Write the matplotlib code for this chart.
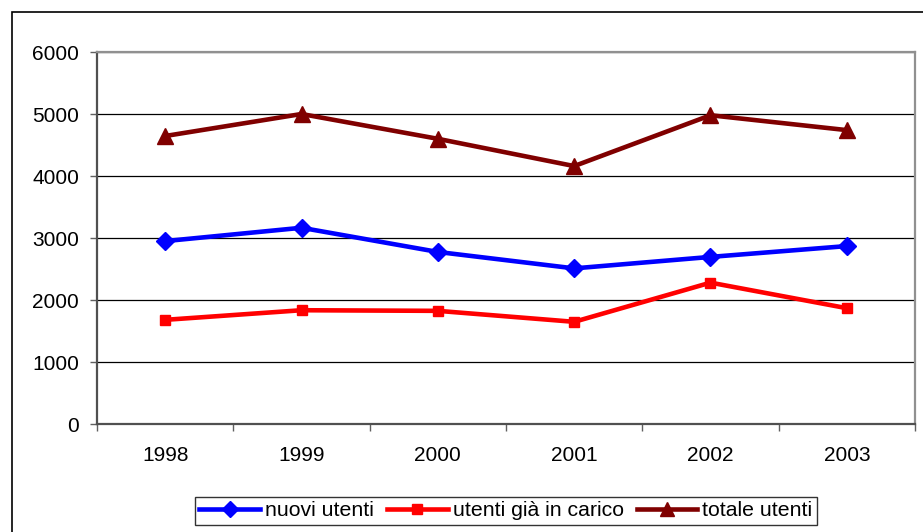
import matplotlib
matplotlib.use("Agg")
import matplotlib.pyplot as plt
from matplotlib.patches import Rectangle

plt.rcParams['font.family'] = ['Liberation Sans', 'DejaVu Sans']

years = ["1998", "1999", "2000", "2001", "2002", "2003"]
nuovi_utenti = [2950, 3165, 2775, 2510, 2695, 2870]
utenti_gia_in_carico = [1680, 1835, 1825, 1648, 2280, 1868]
totale_utenti = [4645, 5000, 4600, 4160, 4980, 4740]
y_ticks = [0, 1000, 2000, 3000, 4000, 5000, 6000]

W, H = 923, 532
FS = 15
fig = plt.figure(figsize=(W / 100, H / 100), dpi=100)

# outer chart frame (extends beyond the right/bottom edges)
fig.patches.append(Rectangle((12 / W, -0.05), 1.2, (H - 12) / H + 0.05,
                             transform=fig.transFigure, fill=False,
                             edgecolor='black', linewidth=1.2, zorder=0))

ax = fig.add_axes([97 / W, (H - 424) / H, (915 - 97) / W, (424 - 52) / H])
x = list(range(len(years)))

ax.plot(x, nuovi_utenti, color='#0000FF', lw=3.3, marker='D', ms=9,
        label='nuovi utenti', zorder=5)
ax.plot(x, utenti_gia_in_carico, color='#FF0000', lw=3.3, marker='s', ms=7.5,
        label='utenti già in carico', zorder=5)
ax.plot(x, totale_utenti, color='#800000', lw=3.3, marker='^', ms=11,
        label='totale utenti', zorder=5)

ax.set_xlim(-0.5, len(years) - 0.5)
ax.set_ylim(0, 6000)
ax.set_yticks(y_ticks)
ax.set_yticklabels([str(v) for v in y_ticks], fontsize=FS)
ax.set_xticks(x)
ax.set_xticklabels(years, fontsize=FS)
ax.set_xticks([i - 0.5 for i in range(len(years) + 1)], minor=True)
ax.tick_params(axis='x', which='major', length=0, pad=16)
ax.tick_params(axis='x', which='minor', length=5, width=1, color='#606060', direction='out')
ax.tick_params(axis='y', length=5, width=1, color='#606060', direction='out', pad=8)

ax.yaxis.grid(True, color='black', linewidth=0.9)
ax.set_axisbelow(True)
for name, s in ax.spines.items():
    s.set_color('#909090' if name in ('top', 'right') else '#505050')
    s.set_linewidth(1.6)

leg = fig.legend(loc='center', bbox_to_anchor=((199 + 813) / 2 / W, 1 - 511 / H),
                 ncol=3, frameon=True, fancybox=False, fontsize=15.3,
                 handlelength=2.85, handletextpad=0.25, columnspacing=0.6,
                 borderpad=0.2, borderaxespad=0, markerscale=0.9)
leg.get_frame().set_edgecolor('black')
leg.get_frame().set_linewidth(1.0)

fig.savefig('out.png', dpi=100)
